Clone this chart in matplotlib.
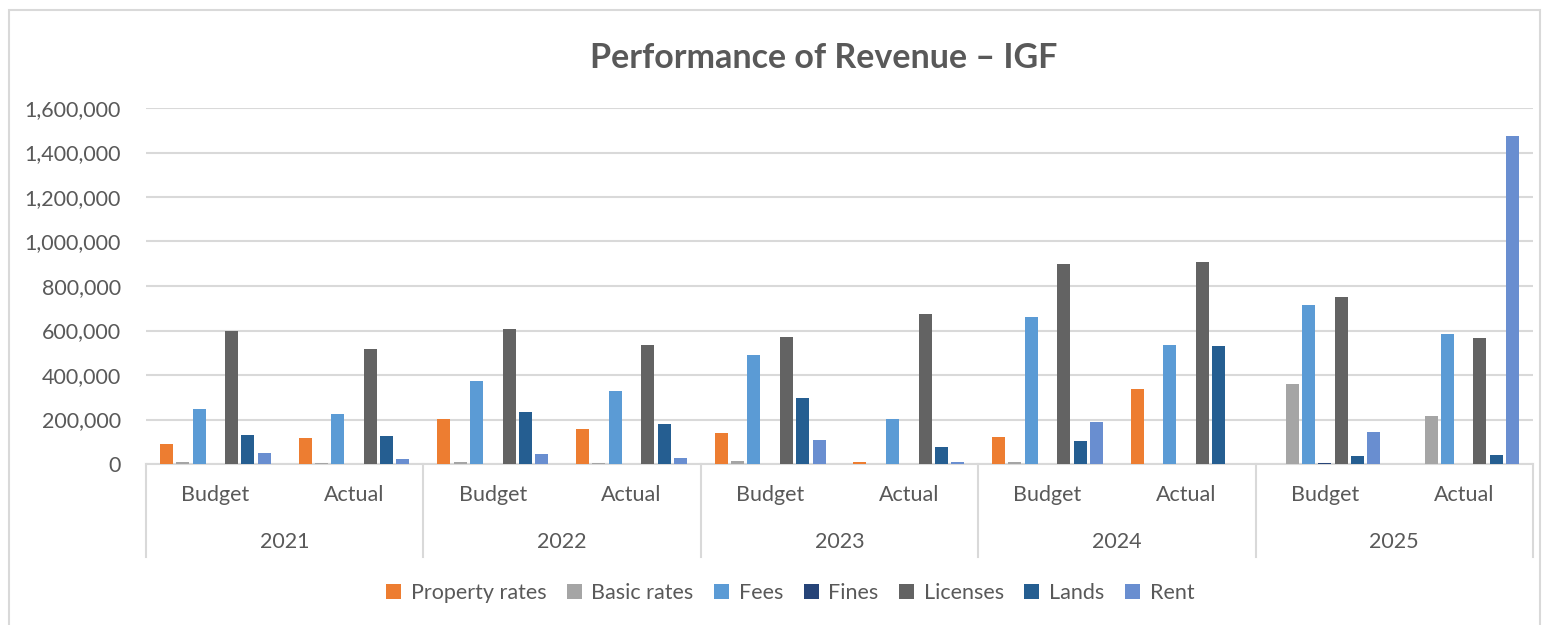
import numpy as np
import matplotlib.pyplot as plt
from matplotlib.patches import Patch, Rectangle
import matplotlib.transforms as mtransforms

plt.rcParams['font.family'] = ['Lato', 'DejaVu Sans']

years = ['2021', '2022', '2023', '2024', '2025']
kinds = ['Budget', 'Actual']

# values per series, order: 2021 B, 2021 A, 2022 B, 2022 A, ... 2025 A
property_rates = [90000, 115000, 201000, 159000, 141000, 10000, 121000, 338000, 2000, 0]
basic_rates = [8000, 6000, 7000, 5000, 13000, 0, 8000, 0, 360000, 214000]
fees = [247000, 223000, 374000, 328000, 490000, 201000, 661000, 535000, 713000, 584000]
fines = [0, 0, 2000, 2000, 2000, 0, 2000, 0, 5000, 0]
licenses = [598000, 515000, 605000, 533000, 572000, 673000, 898000, 908000, 749000, 568000]
lands = [129000, 124000, 232000, 181000, 295000, 78000, 103000, 532000, 36000, 39000]
rent = [48000, 21000, 46000, 28000, 106000, 10000, 189000, 2000, 142000, 1474000]

series = ['Property rates', 'Basic rates', 'Fees', 'Fines', 'Licenses', 'Lands', 'Rent']
values = [property_rates, basic_rates, fees, fines, licenses, lands, rent]
colors = ['#ED7D31', '#A5A5A5', '#5B9BD5', '#264478', '#636363', '#255E91', '#698ED0']

txt = '#595959'
grid = '#D9D9D9'

fig = plt.figure(figsize=(15.44, 6.25), dpi=100)
ax = fig.add_axes([146/1544, 1-464/625, 1387/1544, 356/625])

x = np.arange(len(years) * len(kinds))
slot = 0.1175
for i, (name, vals, c) in enumerate(zip(series, values, colors)):
    ax.bar(x + (i - 3) * slot, vals, width=0.094, color=c, label=name, zorder=3)

ax.set_xlim(-0.5, len(x) - 0.5)
ax.set_ylim(0, 1600000)
ax.set_yticks(np.arange(0, 1600001, 200000))
ax.set_yticklabels([f'{v:,}' for v in range(0, 1600001, 200000)])
ax.yaxis.grid(True, color=grid, linewidth=1.5, zorder=0)
ax.tick_params(axis='y', length=0, pad=18, labelsize=15.5, labelcolor=txt)
ax.set_xticks([])
for s in ['left', 'right', 'top']:
    ax.spines[s].set_visible(False)
ax.spines['bottom'].set_color(grid)
ax.spines['bottom'].set_linewidth(1.5)

# two-level category axis
trans = mtransforms.blended_transform_factory(ax.transData, ax.transAxes)
for j in range(len(x)):
    ax.text(j, -0.087, kinds[j % 2], transform=trans, ha='center', va='center',
            fontsize=15.5, color=txt)
for k, yr in enumerate(years):
    ax.text(2 * k + 0.5, -0.219, yr, transform=trans, ha='center', va='center',
            fontsize=15.5, color=txt)
for b in np.arange(-0.5, len(x), 2):
    ax.plot([b, b], [0, -0.261], transform=trans, color=grid, linewidth=1.5,
            clip_on=False)

fig.text(824/1544, 1-58/625, 'Performance of Revenue \u2013 IGF', ha='center', va='center',
         fontsize=24.5, fontweight='bold', color=txt)

handles = [Patch(facecolor=c, label=n) for n, c in zip(series, colors)]
fig.legend(handles=handles, loc='center', bbox_to_anchor=(790/1544, 1-593/625), ncol=7,
           frameon=False, fontsize=15.5, labelcolor=txt, handlelength=0.7,
           handleheight=0.7, handletextpad=0.45, columnspacing=0.95)

fig.patches.append(Rectangle((9/1544, -0.01), 1531/1544, 1-10/625+0.01,
                             transform=fig.transFigure, fill=False,
                             edgecolor=grid, linewidth=1.5))

fig.savefig('out.png', dpi=100)
